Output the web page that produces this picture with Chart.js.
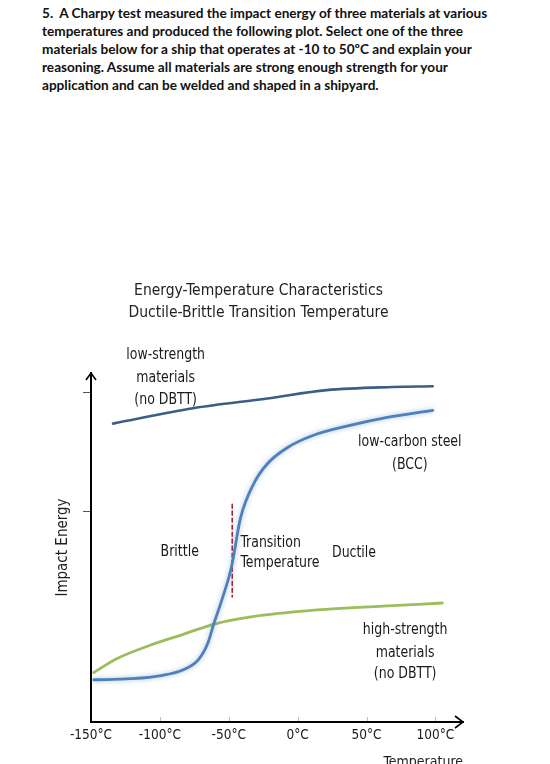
<!DOCTYPE html>
<html>
<head>
<meta charset="utf-8">
<script src="https://cdn.jsdelivr.net/npm/chart.js@4"></script>
<style>
  html, body { margin: 0; padding: 0; background: #fff; overflow: hidden; }
  #question {
    position: absolute; left: 42px; top: 4px;
    font-family: Lato, 'Open Sans', sans-serif; font-weight: 700;
    font-size: 13.6px; line-height: 18px; color: #111; white-space: pre;
  }
  #wrap { position: absolute; left: 0; top: 0; width: 550px; height: 780px; }
</style>
</head>
<body>
<div id="question">5.  A Charpy test measured the impact energy of three materials at various
temperatures and produced the following plot. Select one of the three
materials below for a ship that operates at -10 to 50ºC and explain your
reasoning. Assume all materials are strong enough strength for your
application and can be welded and shaped in a shipyard.</div>
<div id="wrap"><canvas id="chart"></canvas></div>
<script>
// Kurven (Temperatur in °C, Schlagenergie in relativen Einheiten 0..100).
const lowStrengthTemp   = [-134, -76, -22, 21, 69, 98];
const lowStrengthEnergy = [85.5, 89.9, 92.7, 95.1, 96.0, 96.2];

const lowCarbonTemp   = [-148, -121, -99, -83, -72, -65, -61, -55, -48, -41.5, -32, -22, -7.6, 11, 38, 65, 98];
const lowCarbonEnergy = [12.1, 12.4, 13.3, 15.0, 17.9, 22.8, 28.0, 35.0, 44.5, 58.4, 68.2, 74.0, 78.6, 82.1, 85.0, 87.3, 89.3];

const highStrengthTemp   = [-148, -131, -107, -82.5, -61, -34, 14, 62, 105];
const highStrengthEnergy = [14.2, 18.2, 22.0, 25.2, 28.0, 30.1, 32.1, 33.2, 34.1];

const transitionTemp   = [-47.5, -47.5];
const transitionEnergy = [62.4, 35.8];

const xTicks = [-150, -100, -50, 0, 50, 100];
const yTicks = [60.4, 94.4];

// Beschriftungen im Diagramm: Text, Temperatur, Energie.
const noteText   = ['low-strength', 'materials', '(no DBTT)', 'low-carbon steel', '(BCC)', 'Brittle', 'Ductile', 'high-strength', 'materials', '(no DBTT)'];
const noteTemp   = [-95.8, -95.8, -95.8, 81.4, 81.4, -85.6, 40.9, 78, 78, 78];
const noteEnergy = [105.2, 98.6, 92.2, 80.3, 73.7, 48.8, 48.6, 26.3, 19.9, 13.7];
const transText   = ['Transition', 'Temperature'];
const transTemp   = -41.5;
const transEnergy = [51.3, 45.5];

const FONT = "'DejaVu Sans Condensed', 'Liberation Sans Narrow', sans-serif";

const toPoints = (xs, ys) => xs.map((x, i) => ({ x: x, y: ys[i] }));

// schmal gezogener Text, damit er der Vorlage ähnelt
function narrowText(ctx, text, px, py) {
  ctx.save();
  ctx.translate(px, py);
  ctx.scale(0.87, 1);
  ctx.fillText(text, 0, 0);
  ctx.restore();
}

const extras = {
  id: 'extras',
  beforeDatasetDraw(chart, args) {
    if (args.index === 1) {
      chart.ctx.save();
      chart.ctx.shadowColor = 'rgba(79,129,189,0.5)';
      chart.ctx.shadowBlur = 5;
    }
  },
  afterDatasetDraw(chart, args) {
    if (args.index === 1) chart.ctx.restore();
  },
  afterDraw(chart) {
    const { ctx, chartArea: a, scales: { x, y } } = chart;
    ctx.save();
    // Pfeilspitzen
    ctx.strokeStyle = '#000';
    ctx.lineWidth = 1.6;
    ctx.beginPath();
    ctx.moveTo(a.left - 5, a.top + 7);
    ctx.lineTo(a.left, a.top);
    ctx.lineTo(a.left + 5, a.top + 7);
    ctx.moveTo(a.right - 8, a.bottom - 6);
    ctx.lineTo(a.right, a.bottom);
    ctx.lineTo(a.right - 8, a.bottom + 6);
    ctx.stroke();
    // kleine Striche an der x-Achse
    ctx.strokeStyle = '#bbb';
    ctx.lineWidth = 1;
    xTicks.slice(1).forEach(t => {
      const px = Math.round(x.getPixelForValue(t)) + 0.5;
      ctx.beginPath();
      ctx.moveTo(px, a.bottom - 5);
      ctx.lineTo(px, a.bottom - 1);
      ctx.stroke();
    });
    // Texte
    ctx.fillStyle = '#1a1a1a';
    ctx.font = '16px ' + FONT;
    ctx.textAlign = 'center';
    ctx.textBaseline = 'middle';
    noteText.forEach((t, i) => {
      narrowText(ctx, t, x.getPixelForValue(noteTemp[i]), y.getPixelForValue(noteEnergy[i]));
    });
    ctx.textAlign = 'left';
    transText.forEach((t, i) => {
      narrowText(ctx, t, x.getPixelForValue(transTemp), y.getPixelForValue(transEnergy[i]));
    });
    ctx.restore();
  }
};

new Chart(document.getElementById('chart'), {
  type: 'line',
  data: {
    datasets: [
      { label: 'low-strength materials', data: toPoints(lowStrengthTemp, lowStrengthEnergy), borderColor: '#3c5e86', borderWidth: 2.6 },
      { label: 'low-carbon steel', data: toPoints(lowCarbonTemp, lowCarbonEnergy), borderColor: '#4f80ba', borderWidth: 2.8 },
      { label: 'high-strength materials', data: toPoints(highStrengthTemp, highStrengthEnergy), borderColor: '#9cbd5c', borderWidth: 2.8 },
      { label: 'DBTT', data: toPoints(transitionTemp, transitionEnergy), borderColor: '#a3242a', borderWidth: 1.6, borderDash: [4, 3] }
    ]
  },
  options: {
    responsive: true,
    maintainAspectRatio: false,
    animation: false,
    clip: false,
    layout: { padding: { top: 280, left: 54, right: 87, bottom: 9 } },
    elements: {
      point: { radius: 0 },
      line: { cubicInterpolationMode: 'monotone', borderCapStyle: 'round', fill: false }
    },
    plugins: {
      legend: { display: false },
      tooltip: { enabled: false },
      title: {
        display: true,
        text: ['Energy-Temperature Characteristics', 'Ductile-Brittle Transition Temperature'],
        color: '#222',
        font: { family: FONT, size: 15.5, weight: 'normal', lineHeight: 1.42 },
        padding: { top: 0, bottom: 49 }
      }
    },
    scales: {
      x: {
        type: 'linear',
        min: -150,
        max: 120,
        afterBuildTicks: s => { s.ticks = xTicks.map(v => ({ value: v })); },
        grid: { display: false, drawTicks: false },
        border: { display: true, color: '#000', width: 2 },
        ticks: { color: '#1a1a1a', padding: 5, maxRotation: 0, font: { family: FONT, size: 13.5 }, callback: v => v + '°C' },
        title: {
          display: true, text: 'Temperature', align: 'end', color: '#222',
          font: { family: FONT, size: 14 }, padding: { top: 6, bottom: 0 }
        }
      },
      y: {
        type: 'linear',
        min: 0,
        max: 100,
        afterBuildTicks: s => { s.ticks = yTicks.map(v => ({ value: v })); },
        grid: { drawOnChartArea: false, drawTicks: true, tickLength: 8, color: '#555' },
        border: { display: true, color: '#000', width: 2 },
        ticks: { display: false },
        title: {
          display: true, text: 'Impact Energy', color: '#222',
          font: { family: FONT, size: 15 }, padding: { top: 0, bottom: 11 }
        }
      }
    }
  },
  plugins: [extras]
});
</script>
</body>
</html>
